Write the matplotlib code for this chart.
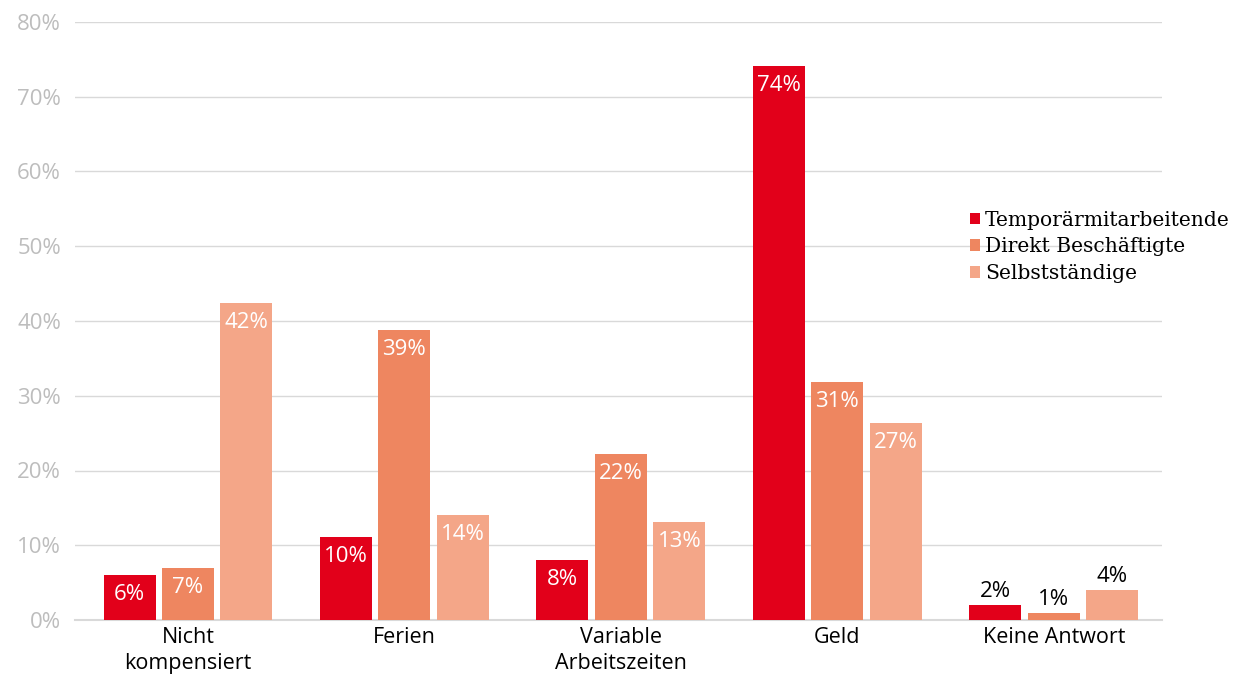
import matplotlib.pyplot as plt
import numpy as np

categories = ["Nicht\nkompensiert", "Ferien", "Variable\nArbeitszeiten", "Geld", "Keine Antwort"]
series = ["Temporärmitarbeitende", "Direkt Beschäftigte", "Selbstständige"]
# bar heights as drawn (percent)
temp = [6.0, 11.1, 8.0, 74.1, 2.0]
direkt = [7.0, 38.8, 22.2, 31.8, 0.9]
selbst = [42.4, 14.0, 13.1, 26.4, 4.0]
# labels as printed
temp_lbl = ["6%", "10%", "8%", "74%", "2%"]
direkt_lbl = ["7%", "39%", "22%", "31%", "1%"]
selbst_lbl = ["42%", "14%", "13%", "27%", "4%"]
colors = ["#e2001a", "#ee8660", "#f4a688"]
yticks = [0, 10, 20, 30, 40, 50, 60, 70, 80]

fig = plt.figure(figsize=(12.36, 6.75), dpi=100)
ax = fig.add_axes([75/1236, 55/675, (1162-75)/1236, (620-22)/675])

x = np.arange(len(categories))
w = 0.240
step = 0.270
values = [temp, direkt, selbst]
labels = [temp_lbl, direkt_lbl, selbst_lbl]

for i in range(3):
    pos = x + (i - 1) * step
    ax.bar(pos, values[i], width=w, color=colors[i], label=series[i], zorder=3)
    for j in range(len(categories)):
        v = values[i][j]
        if v > 5:
            ax.text(pos[j], v - 1.2, labels[i][j], ha="center", va="top",
                    color="white", fontsize=16, family="Open Sans", zorder=4)
        else:
            ax.text(pos[j], v + 0.4, labels[i][j], ha="center", va="bottom",
                    color="black", fontsize=16, family="Open Sans", zorder=4)

ax.set_xlim(-0.522, 4.5)
ax.set_ylim(0, 80)
ax.set_yticks(yticks)
ax.set_yticklabels([f"{t}%" for t in yticks], color="#bdbdbd", fontsize=16, family="Open Sans")
ax.set_xticks(x)
ax.set_xticklabels(categories, fontsize=15.5, family="Open Sans", linespacing=1.3)
ax.tick_params(axis="both", length=0)
ax.tick_params(axis="y", pad=10)
ax.tick_params(axis="x", pad=5)
ax.grid(axis="y", color="#d9d9d9", linewidth=1, zorder=0)
for s in ["top", "right", "left"]:
    ax.spines[s].set_visible(False)
ax.spines["bottom"].set_color("#d9d9d9")
ax.spines["bottom"].set_linewidth(1.5)

leg = ax.legend(loc="upper left", bbox_to_anchor=(0.8155, 0.698), frameon=False,
                prop={"family": "DejaVu Serif", "size": 14.6},
                handlelength=0.5, handleheight=0.5, handletextpad=0.25,
                labelspacing=0.38, borderaxespad=0)
leg.set_zorder(5)

fig.savefig("out.png", dpi=100)
